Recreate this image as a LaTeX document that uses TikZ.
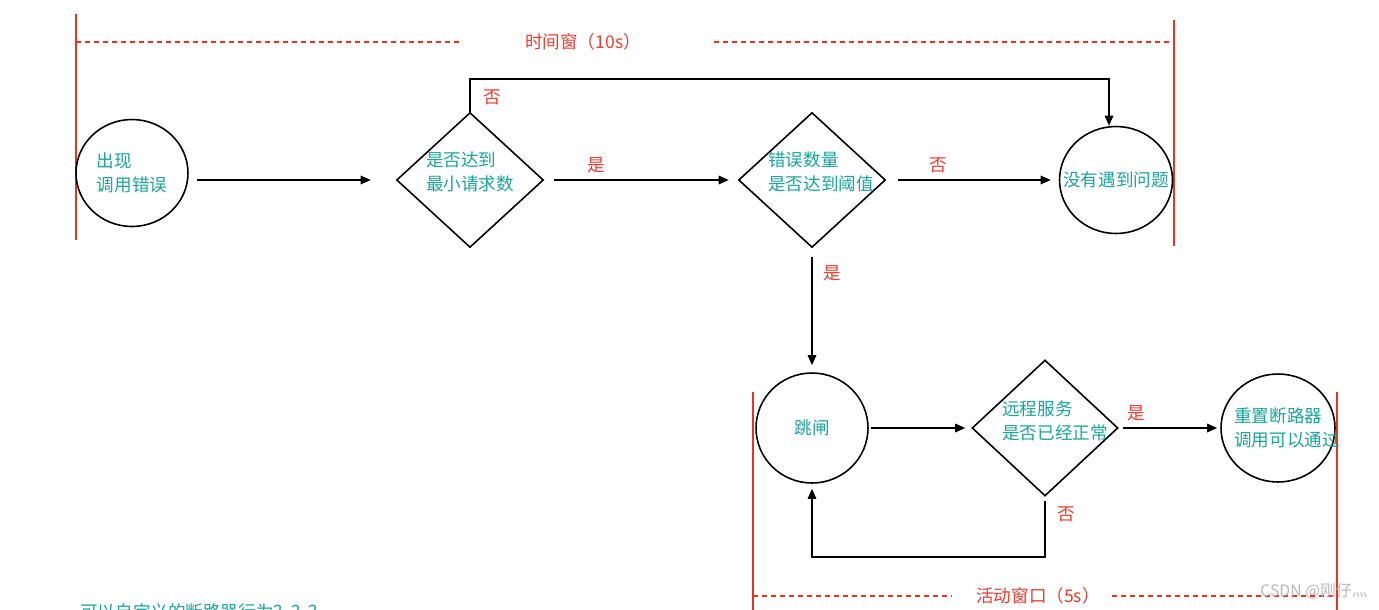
\documentclass[tikz,border=0pt]{standalone}
\usepackage{fontspec}
\setmainfont{Noto Sans CJK SC}
\usetikzlibrary{shapes.geometric, arrows.meta, calc}
\definecolor{tealtxt}{RGB}{26,165,154}
\definecolor{redline}{RGB}{234,51,35}
\definecolor{redtxt}{RGB}{240,60,48}

\begin{document}
\begin{tikzpicture}[x = 0.02cm, y = -0.02cm,
    every node/.style = {font=\fontsize{10}{14}\selectfont},
    state/.style = {draw, ellipse, line width=0.9pt, inner sep=0pt},
    check/.style = {draw, diamond, line width=0.9pt, inner sep=0pt},
    txt/.style = {text=tealtxt, align=left, inner sep=0pt},
    yn/.style = {text=redtxt},
    arr/.style = {-{Triangle[length=0.2cm, width=0.17cm]}, line width=0.9pt},
    win/.style = {redline, line width=0.8pt},
    windash/.style = {redline, line width=0.8pt, dash pattern=on 0.1cm off 0.08cm}]

    \useasboundingbox (0,0) rectangle (1379,609);

    % Time window
    \draw[win] (76,14) -- (76,240);
    \draw[win] (1174,20) -- (1174,246);
    \node[yn] (tw) at (583,42) {时间窗（10s）};
    \draw[windash] (76,42) -- (460,42);
    \draw[windash] (714,42) -- (1173,42);

    % Active window
    \draw[win] (753,392) -- (753,612);
    \draw[win] (1337,392) -- (1337,612);
    \node[yn] (aw) at (1038,596) {活动窗口（5s）};
    \draw[windash] (753,596) -- (952,596);
    \draw[windash] (1112,596) -- (1337,596);

    % States and checks
    \node[state, minimum width=2.24cm, minimum height=2.14cm] (err) at (132,173) {};
    \node[txt] (err-t) at (132,173) {出现\\调用错误};

    \node[check, minimum width=2.94cm, minimum height=2.7cm] (minreq) at (470,180) {};
    \node[txt] (minreq-t) at (470,172) {是否达到\\最小请求数};

    \node[check, minimum width=2.94cm, minimum height=2.7cm] (thres) at (812,180) {};
    \node[txt] (thres-t) at (821,172) {错误数量\\是否达到阈值};

    \node[state, minimum width=2.26cm, minimum height=2.14cm] (ok) at (1116,180) {};
    \node[txt] (ok-t) at (1116,180) {没有遇到问题};

    \node[state, minimum width=2.24cm, minimum height=2.2cm] (trip) at (812,428) {};
    \node[txt] (trip-t) at (812,428) {跳闸};

    \node[check, minimum width=2.92cm, minimum height=2.72cm] (remote) at (1045,428) {};
    \node[txt] (remote-t) at (1055,421) {远程服务\\是否已经正常};

    \node[state, minimum width=2.28cm, minimum height=2.16cm] (reset) at (1278,428) {};
    \node[txt] (reset-t) at (1287,428) {重置断路器\\调用可以通过};

    % Connectors
    \draw[arr, shorten <=0.16cm, shorten >=0.5cm] (err.east |- minreq.west) -- (minreq.west);
    \draw[arr, shorten <=0.2cm, shorten >=0.18cm] (minreq.east) -- (thres.west)
        node[yn, above, pos=0.27] (y1) {是};
    \draw[arr, shorten <=0.24cm, shorten >=0.16cm] (thres.east) -- (ok.west)
        node[yn, above, pos=0.3] (n1) {否};
    \draw[arr] (minreq.north) -- ++(0,-33)
        node[yn, right, pos=0.45, xshift=0.14cm] (n2) {否} -| ([xshift=-0.14cm]ok.north);
    \draw[arr, shorten <=0.18cm, shorten >=0.14cm] (thres.south) -- (trip.north)
        node[yn, right, pos=0.2, xshift=0.1cm] (y2) {是};
    \draw[arr, shorten <=0.04cm, shorten >=0.12cm] (trip.east) -- (remote.west);
    \draw[arr, shorten <=0.08cm, shorten >=0.06cm] (remote.east) -- (reset.west)
        node[yn, above, pos=0.17] (y3) {是};
    \draw[arr, shorten <=0.08cm, shorten >=0.1cm] (remote.south) -- ++(0,60)
        node[yn, right, pos=0.3, xshift=0.12cm] (n3) {否} -| (trip.south);

    % Note and mark
    \node[txt, anchor=north west] (note) at (80,603) {可以自定义的断路器行为？？？};
    \node[text=gray!55, font=\fontsize{9}{11}\selectfont] (mark) at (1314,591) {CSDN @刚仔灬};

\end{tikzpicture}
\end{document}
